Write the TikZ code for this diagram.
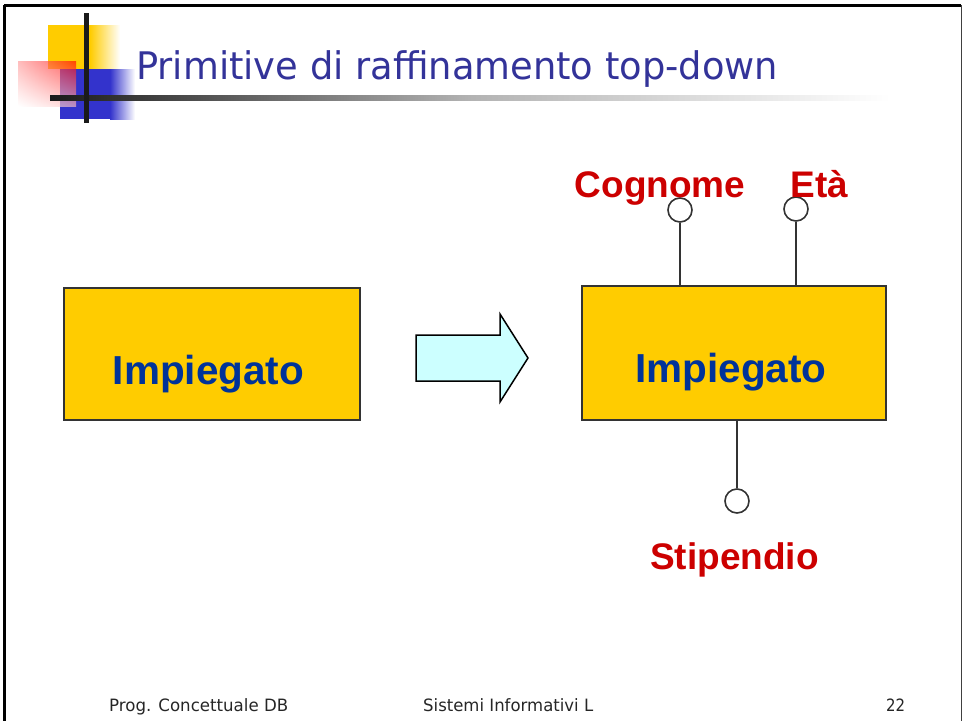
\documentclass[tikz,border=0pt]{standalone}
\usepackage{fontspec}
\setmainfont{Liberation Sans}
\newfontfamily\titlefont{DejaVu Sans}
\usetikzlibrary{positioning,shadings}
\definecolor{gold}{HTML}{FFCC00}
\definecolor{entblue}{HTML}{003399}
\definecolor{attred}{HTML}{CC0000}
\definecolor{titleblue}{HTML}{333399}
\definecolor{arrowcyan}{HTML}{CCFFFF}
\definecolor{edge}{HTML}{333333}
\definecolor{logoyellow}{HTML}{FFCC00}
\definecolor{logoblue}{HTML}{3333CC}
\definecolor{barblack}{HTML}{1A1A1A}
\tikzset{
  entity/.style={draw=edge, line width=2pt, fill=gold, inner sep=0pt},
  enttext/.style={font=\bfseries\fontsize{40.5}{43}\selectfont, text=entblue, anchor=base, inner sep=0pt},
  atttext/.style={font=\bfseries\fontsize{37}{39}\selectfont, text=attred, anchor=base, inner sep=0pt},
  attcirc/.style={circle, draw=edge, line width=1.6pt, fill=white, minimum size=24pt, inner sep=0pt},
  attline/.style={draw=edge, line width=1.6pt},
  foot/.style={font=\fontsize{17}{19}\selectfont, text=black!85, anchor=base west, inner sep=0pt},
}
\begin{document}
\begin{tikzpicture}[x=1pt,y=-1pt]
\useasboundingbox (0,0) rectangle (962,721);
% frame
\draw[line width=3pt, black] (4,5) -- (961,5);
\draw[line width=3pt, black] (4,5) -- (4,721);
\draw[line width=1pt, black!75] (961,5) -- (961,721);
% logo
\fill[logoyellow] (48,25) rectangle (90,69);
\shade[left color=logoyellow, right color=white] (90,25) rectangle (120,69);
\fill[logoblue] (60,69) rectangle (110,119);
\shade[left color=logoblue, right color=white] (110,69) rectangle (135,119);
\shade[lower left=white, upper right=red, lower right=red!25, upper left=red!40, fill opacity=0.65, opacity=0.65] (18,61) rectangle (76,106);
\shade[left color=barblack, right color=white, middle color=black!30] (50,95) rectangle (890,100);
\fill[barblack] (84,13) rectangle (89,123);
% title
\node[anchor=base west, inner sep=0pt, text=titleblue] (title) at (136,79)
  {\resizebox{642pt}{\height}{\titlefont\fontsize{38}{40}\selectfont Primitive di raffinamento top-down}};
% left entity
\node[entity, minimum width=296pt, minimum height=132pt] (e1) at (212,354) {};
\node[enttext] (t1) at (208.5,384) {Impiegato};
% block arrow
\filldraw[fill=arrowcyan, draw=black, line width=1.5pt, line join=miter]
  (416,335) -- (500,335) -- (500,314) -- (528,358) -- (500,402) -- (500,381) -- (416,381) -- cycle;
% right entity
\node[entity, minimum width=304pt, minimum height=134pt] (e2) at (734,353) {};
\node[enttext] (t2) at (731,382) {Impiegato};
% attributes
\node[attcirc] (c1) at (680,210) {};
\node[attcirc] (c2) at (796,209) {};
\node[attcirc] (c3) at (737,501) {};
\draw[attline] (c1.south) -- (c1.south |- e2.north);
\draw[attline] (c2.south) -- (c2.south |- e2.north);
\draw[attline] (c3.north) -- (c3.north |- e2.south);
\node[atttext] (a1) at (660,197) {Cognome};
\node[atttext] (a2) at (819.5,197) {Età};
\node[atttext] (a3) at (734.5,569) {Stipendio};
% footer
\node[foot] (f1) at (109,711) {\resizebox{179pt}{\height}{\titlefont Prog. Concettuale DB}};
\node[foot] (f2) at (423,711) {\resizebox{170pt}{\height}{\titlefont Sistemi Informativi L}};
\node[foot] (f3) at (886,711) {\resizebox{19pt}{\height}{\titlefont 22}};
\end{tikzpicture}
\end{document}
